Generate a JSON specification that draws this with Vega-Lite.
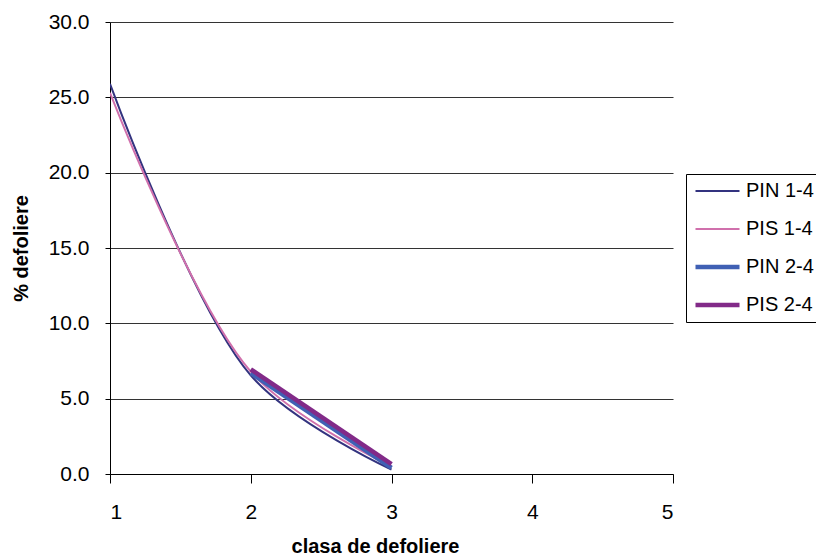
{
  "$schema": "https://vega.github.io/schema/vega-lite/v6.json",
  "autosize": {"type": "none"},
  "width": 563,
  "height": 452,
  "padding": {"left": 110, "top": 22, "right": 143, "bottom": 85},
  "background": "white",
  "config": {
    "font": "Liberation Sans",
    "view": {"stroke": null},
    "axis": {"labelFont": "Liberation Sans", "titleFont": "Liberation Sans"}
  },
  "data": {
    "values": [
      {"clasa": 1, "pct": 25.9, "series": "PIN 1-4"},
      {"clasa": 2, "pct": 6.55, "series": "PIN 1-4"},
      {"clasa": 3, "pct": 0.3, "series": "PIN 1-4"},
      {"clasa": 1, "pct": 25.3, "series": "PIS 1-4"},
      {"clasa": 2, "pct": 6.8, "series": "PIS 1-4"},
      {"clasa": 3, "pct": 0.5, "series": "PIS 1-4"},
      {"clasa": 2, "pct": 6.7, "series": "PIN 2-4"},
      {"clasa": 3, "pct": 0.4, "series": "PIN 2-4"},
      {"clasa": 2, "pct": 6.95, "series": "PIS 2-4"},
      {"clasa": 3, "pct": 0.65, "series": "PIS 2-4"}
    ]
  },
  "mark": {"type": "line", "interpolate": "catmull-rom", "clip": true},
  "encoding": {
    "x": {
      "field": "clasa", "type": "quantitative",
      "scale": {"domain": [1, 5], "nice": false, "zero": false},
      "axis": {
        "title": "clasa de defoliere",
        "values": [1, 2, 3, 4, 5],
        "format": "d",
        "grid": false,
        "domainColor": "#000", "domainWidth": 1,
        "tickColor": "#000", "tickSize": 9,
        "labelFontSize": 21, "labelColor": "#000", "labelPadding": 18,
        "titleFontSize": 20, "titleFontWeight": "bold", "titleColor": "#000",
        "titlePadding": 14, "titleX": 265
      }
    },
    "y": {
      "field": "pct", "type": "quantitative",
      "scale": {"domain": [0, 30], "nice": false},
      "axis": {
        "title": "% defoliere",
        "values": [0, 5, 10, 15, 20, 25, 30],
        "format": ".1f",
        "grid": true, "gridColor": "#333", "gridWidth": 1, "gridOpacity": 1,
        "domainColor": "#000", "domainWidth": 1,
        "tickColor": "#000", "tickSize": 5,
        "labelFontSize": 21, "labelColor": "#000", "labelPadding": 16,
        "titleFontSize": 20, "titleFontWeight": "bold", "titleColor": "#000",
        "titlePadding": 17
      }
    },
    "color": {
      "field": "series", "type": "nominal",
      "scale": {
        "domain": ["PIN 1-4", "PIS 1-4", "PIN 2-4", "PIS 2-4"],
        "range": ["#33337f", "#d070ac", "#4060b4", "#822a88"]
      },
      "legend": {
        "title": null,
        "orient": "none",
        "legendX": 576,
        "legendY": 152,
        "symbolType": "stroke",
        "symbolSize": 1936,
        "clipHeight": 20,
        "labelFontSize": 20,
        "labelColor": "#000",
        "labelFont": "Liberation Sans",
        "strokeColor": "#000",
        "fillColor": "white",
        "padding": 7,
        "rowPadding": 18,
        "labelOffset": 4
      }
    },
    "strokeWidth": {
      "field": "series", "type": "nominal",
      "scale": {
        "type": "ordinal",
        "domain": ["PIN 1-4", "PIS 1-4", "PIN 2-4", "PIS 2-4"],
        "range": [2, 2, 4.5, 4.5]
      },
      "legend": {
        "title": null,
        "orient": "none",
        "legendX": 576,
        "legendY": 152,
        "symbolType": "stroke",
        "symbolSize": 1936,
        "clipHeight": 20,
        "labelFontSize": 20,
        "labelColor": "#000",
        "labelFont": "Liberation Sans",
        "strokeColor": "#000",
        "fillColor": "white",
        "padding": 7,
        "rowPadding": 18,
        "labelOffset": 4
      }
    },
    "order": {"field": "clasa", "type": "quantitative"}
  }
}
